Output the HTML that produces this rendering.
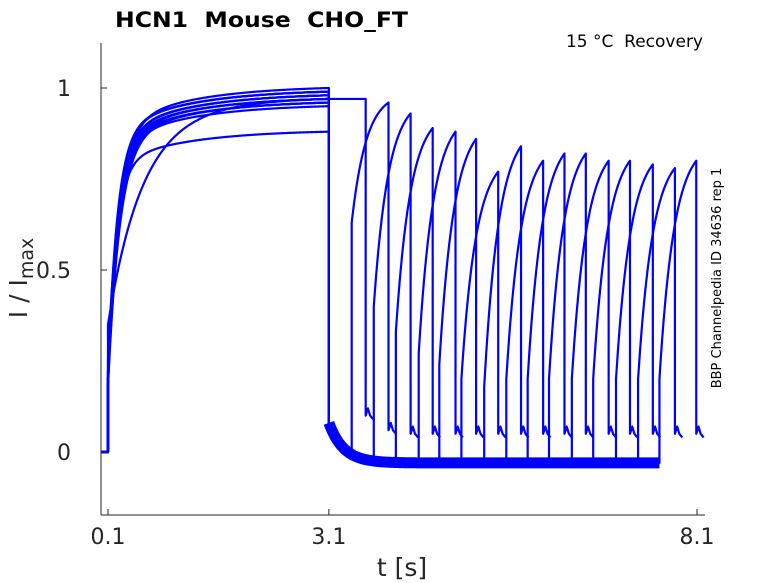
<!DOCTYPE html>
<html><head><meta charset="utf-8"><style>
html,body{margin:0;padding:0;background:#fff;}
svg{display:block;font-family:"DejaVu Sans","Liberation Sans",sans-serif;}
text{white-space:pre;}
</style></head><body>
<svg id="chart" width="778" height="583" viewBox="0 0 778 583" xml:space="preserve">
  <text x="115" y="27" font-size="21" font-weight="bold" fill="#000" textLength="293" lengthAdjust="spacingAndGlyphs">HCN1  Mouse  CHO_FT</text>
  <text x="703" y="47" font-size="17" fill="#000" text-anchor="end">15 °C  Recovery</text>
  <text transform="translate(721,278) rotate(-90)" font-size="13" fill="#000" text-anchor="middle">BBP Channelpedia ID 34636 rep 1</text>
  <g id="plot"></g>
  <g id="axes">
    <line x1="101" y1="43" x2="101" y2="515" stroke="#262626" stroke-width="1"/>
    <line x1="101" y1="515" x2="705" y2="515" stroke="#262626" stroke-width="1"/>
  </g>
  <text transform="translate(27,278) rotate(-90)" font-size="25" fill="#262626" text-anchor="middle">I / I<tspan font-size="19" dy="6">max</tspan></text>
  <text x="402" y="576" font-size="25" fill="#262626" text-anchor="middle">t [s]</text>
</svg>
<script>
// ---- data ----
const xTickValues = [0.1, 3.1, 8.1];
const xTickLabels = ["0.1", "3.1", "8.1"];
const yTickValues = [0, 0.5, 1];
const yTickLabels = ["0", "0.5", "1"];
// activation phase per trace (16 traces)
const actOnset = [0.2,0.22,0.2,0.18,0.25,0.2,0.2,0.35,0.2,0.22,0.2,0.2,0.18,0.2,0.22,0.2];
const actEnd   = [0.98,0.97,0.99,0.96,0.88,0.98,1.0,0.97,0.95,0.99,0.97,0.96,0.98,0.99,0.96,0.97];
const actTauFast = [0.14,0.15,0.13,0.16,0.12,0.14,0.15,0.45,0.14,0.13,0.16,0.15,0.14,0.13,0.15,0.14];
// recovery phase per trace
const recoveryInterval = [0,0.31,0.61,0.91,1.22,1.50,1.80,2.11,2.41,2.70,2.99,3.30,3.59,3.90,4.20,4.49];
const testOnset = [0.97,0.63,0.40,0.33,0.27,0.24,0.20,0.18,0.20,0.20,0.20,0.20,0.20,0.20,0.20,0.20];
const testPeak  = [0.97,0.96,0.93,0.89,0.88,0.86,0.77,0.84,0.80,0.82,0.82,0.80,0.80,0.79,0.78,0.80];
const tailLevel = [0.10,0.06,0.05,0.05,0.05,0.05,0.05,0.05,0.05,0.05,0.05,0.05,0.05,0.05,0.05,0.05];
const baselineLevel = -0.03;
const pulseStart = 0.1, pulseEnd = 3.1, testDuration = 0.5;

// ---- scales ----
const X = t => 108 + (t - 0.1) * 73.625;
const Y = v => 452 - v * 364;
const NS = "http://www.w3.org/2000/svg";
const plot = document.getElementById('plot');
const axes = document.getElementById('axes');

xTickValues.forEach((v,i)=>{
  const l=document.createElementNS(NS,'line');
  l.setAttribute('x1',X(v));l.setAttribute('x2',X(v));l.setAttribute('y1',515);l.setAttribute('y2',509);
  l.setAttribute('stroke','#262626');
  
  
  axes.appendChild(l);
  const t=document.createElementNS(NS,'text');
  t.setAttribute('x',X(v));t.setAttribute('y',544);t.setAttribute('font-size','22');t.setAttribute('fill','#262626');t.setAttribute('text-anchor','middle');
  t.textContent=xTickLabels[i];
  
  
  axes.appendChild(t);
});
yTickValues.forEach((v,i)=>{
  const l=document.createElementNS(NS,'line');
  l.setAttribute('x1',101);l.setAttribute('x2',107);l.setAttribute('y1',Y(v));l.setAttribute('y2',Y(v));
  l.setAttribute('stroke','#262626');
  
  
  axes.appendChild(l);
  const t=document.createElementNS(NS,'text');
  t.setAttribute('x',71);t.setAttribute('y',Y(v)+8);t.setAttribute('font-size','22');t.setAttribute('fill','#262626');t.setAttribute('text-anchor','end');
  t.textContent=yTickLabels[i];
  
  
  axes.appendChild(t);
});

const dt = 0.01;
function addPath(d, w, name){
  const p=document.createElementNS(NS,'path');
  p.setAttribute('d',d);p.setAttribute('fill','none');p.setAttribute('stroke','#0000ff');
  p.setAttribute('stroke-width',w);p.setAttribute('stroke-linejoin','round');
  
  
  plot.appendChild(p);
}
const tauSlow = 1.0;
actOnset.forEach((a0,k)=>{
  const P = actEnd[k], tf = actTauFast[k];
  const f = t => { const c=0.85; return c*Math.exp(-t/tf)+(1-c)*Math.exp(-t/tauSlow); };
  const fEnd = f(pulseEnd - pulseStart);
  let d = `M${X(0.01)},${Y(0)} L${X(pulseStart)},${Y(0)}`;
  for(let t=pulseStart; t<=pulseEnd+1e-9; t+=dt){
    const s=t-pulseStart;
    const v = a0 + (P - a0) * (1 - f(s)) / (1 - fEnd);
    d += ` L${X(t).toFixed(2)},${Y(v).toFixed(2)}`;
  }
  const ts = pulseEnd + recoveryInterval[k];
  if (recoveryInterval[k] > 0) {
    for(let t=pulseEnd; t<=ts+1e-9; t+=dt){
      const v = baselineLevel + 0.11*Math.exp(-(t-pulseEnd)/0.2);
      d += ` L${X(t).toFixed(2)},${Y(v).toFixed(2)}`;
    }
  }
  const a = testOnset[k], pk = testPeak[k], tau=0.2;
  const norm = 1 - Math.exp(-testDuration/tau);
  for(let t=0; t<=testDuration+1e-9; t+=dt){
    const v = recoveryInterval[k]===0 ? a + (pk-a)*t/testDuration : a + (pk-a)*(1-Math.exp(-t/tau))/norm;
    d += ` L${X(ts+t).toFixed(2)},${Y(v).toFixed(2)}`;
  }
  const te = ts + testDuration;
  const tl = tailLevel[k];
  d += ` L${X(te)},${Y(tl)} L${X(te+0.03)},${Y(tl+0.02)} L${X(te+0.06)},${Y(tl)} L${X(te+0.1)},${Y(tl-0.01)}`;
  addPath(d, 2.2, 'current-trace');
});
{
  const maxEnd = pulseEnd + recoveryInterval[recoveryInterval.length-1];
  let d='';
  for(let t=pulseEnd; t<=maxEnd; t+=dt){
    const v = baselineLevel + 0.11*Math.exp(-(t-pulseEnd)/0.2);
    d += (d?' L':'M')+`${X(t).toFixed(2)},${Y(v).toFixed(2)}`;
  }
  addPath(d, 11, 'baseline-band');
}
</script>
</body></html>
